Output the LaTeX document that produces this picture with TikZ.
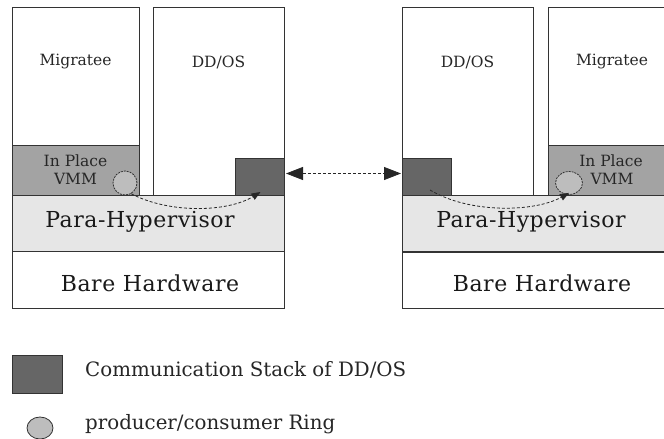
\documentclass[tikz,border=0pt]{standalone}
\usepackage{fontspec}
\setmainfont{DejaVu Serif}
\newfontfamily\widefont[LetterSpace=2.5]{DejaVu Serif}
\usetikzlibrary{arrows.meta,shapes.geometric}
\definecolor{edge}{HTML}{333333}
\definecolor{stackfill}{HTML}{666666}
\definecolor{vmmfill}{HTML}{A3A3A3}
\definecolor{hypfill}{HTML}{E6E6E6}
\definecolor{ringfill}{HTML}{BDBDBD}
\tikzset{
  layer/.style={draw=edge, line width=0.9pt, inner sep=0pt, outer sep=0pt, anchor=north west},
  stackbox/.style={layer, fill=stackfill},
  ring/.style={ellipse, draw=edge, fill=ringfill, line width=0.8pt, inner sep=0pt,
               dash pattern=on 2pt off 1pt},
  smalltxt/.style={font=\fontsize{15.5}{17}\selectfont, text=black!85},
  bigtxt/.style={font=\widefont\fontsize{22}{24}\selectfont, text=black!90},
  keytxt/.style={font=\fontsize{19.8}{22}\selectfont, text=black!85, anchor=base west, inner sep=0pt},
  flow/.style={draw=black!85, line width=0.8pt, dash pattern=on 3pt off 2pt,
               -{Triangle[length=9pt,width=7pt]}},
  link/.style={draw=black!85, line width=0.8pt, dash pattern=on 3pt off 2pt,
               {Triangle[length=17pt,width=13pt]}-{Triangle[length=17pt,width=13pt]}}
}
\begin{document}
\begin{tikzpicture}[x=1pt,y=-1pt]
\useasboundingbox (0,0) rectangle (664,439);
\clip (0,0) rectangle (664,439);

% ---------- left machine ----------
\node[layer, fill=white, minimum width=127, minimum height=188] (migL) at (12,7) {};
\node[layer, fill=vmmfill, minimum width=127, minimum height=50] (vmmL) at (12,145) {};
\node[layer, fill=white, minimum width=131, minimum height=188] (ddL) at (153,7) {};
\node[stackbox, minimum width=49, minimum height=37] (csL) at (235,158) {};
\node[layer, fill=hypfill, minimum width=272, minimum height=56] (hypL) at (12,195) {};
\node[layer, fill=white, minimum width=272, minimum height=57] (hwL) at (12,251) {};
\node[ring, minimum width=24, minimum height=24] (ringL) at (125,183) {};

\node[smalltxt] (tMigL) at (75.5,62) {Migratee};
\node[smalltxt] (tDdL) at (218.5,62) {DD/OS};
\node[smalltxt] (tIpL) at (75.5,161) {In Place};
\node[smalltxt] (tVmL) at (75.5,179) {VMM};
\node[bigtxt] (tHypL) at (140,222) {Para-Hypervisor};
\node[bigtxt] (tHwL) at (150,283) {Bare Hardware};

% ---------- right machine ----------
\node[layer, fill=white, minimum width=131, minimum height=188] (ddR) at (402,7) {};
\node[stackbox, minimum width=49, minimum height=37] (csR) at (402,158) {};
\node[layer, fill=white, minimum width=127, minimum height=188] (migR) at (548,7) {};
\node[layer, fill=vmmfill, minimum width=127, minimum height=50] (vmmR) at (548,145) {};
\node[layer, fill=hypfill, minimum width=273, minimum height=57] (hypR) at (402,195) {};
\node[layer, fill=white, minimum width=273, minimum height=56] (hwR) at (402,252) {};
\draw[edge, line width=1.8pt] (hwR.north west) -- (hwR.north east);
\node[ring, minimum width=27, minimum height=23] (ringR) at (569,183) {};

\node[smalltxt] (tDdR) at (467.5,62) {DD/OS};
\node[smalltxt] (tMigR) at (612,62) {Migratee};
\node[smalltxt] (tIpR) at (611,161) {In Place};
\node[smalltxt] (tVmR) at (612,179) {VMM};
\node[bigtxt] (tHypR) at (531,222) {Para-Hypervisor};
\node[bigtxt] (tHwR) at (542,283) {Bare Hardware};

% ---------- data paths ----------
\coordinate (srcR) at (430,190);
\draw[flow] (ringL.-60) .. controls (170,214) and (228,212) .. ([yshift=3pt,xshift=1pt]csL.south);
\draw[flow] (srcR) .. controls (470,214) and (535,212) .. ([yshift=2pt]ringR.south);
\draw[link] ([yshift=3pt,xshift=2pt]csL.east) -- ([yshift=3pt,xshift=-1pt]csR.west);

% ---------- legend ----------
\node[stackbox, minimum width=50, minimum height=38] (keyStack) at (12,355) {};
\node[keytxt] (keyStackTxt) at (85,376) {Communication Stack of DD/OS};
\node[ellipse, draw=edge, fill=ringfill, line width=0.8pt, inner sep=0pt,
      minimum width=26, minimum height=22] (keyRing) at (40,428) {};
\node[keytxt] (keyRingTxt) at (85,429) {producer/consumer Ring};
\end{tikzpicture}
\end{document}
